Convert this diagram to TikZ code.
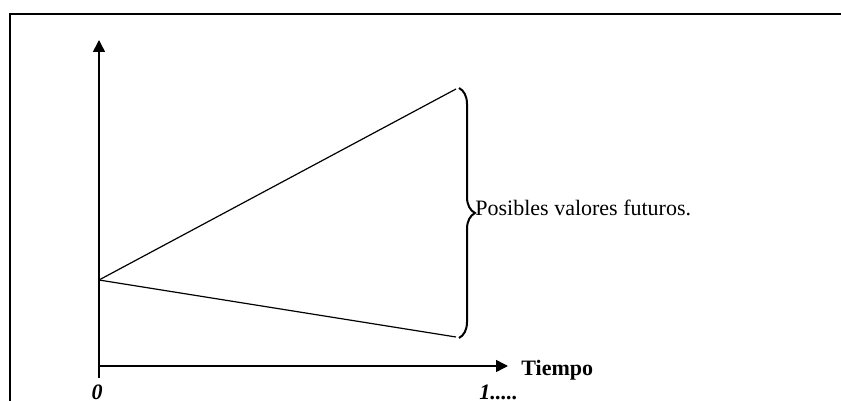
\documentclass[tikz,border=0pt]{standalone}
\usepackage{fontspec}
\setmainfont{Liberation Serif}
\usetikzlibrary{arrows.meta,calc,decorations.pathreplacing,positioning}

\begin{document}
\begin{tikzpicture}[x=0.5pt,y=-0.5pt,
    axis/.style={line width=0.8pt,-{Triangle[length=6pt,width=6pt]}},
    ramp/.style={line width=0.6pt},
    lbl/.style={inner sep=0pt,font=\fontsize{11}{13}\selectfont}]
      \useasboundingbox (0,0) rectangle (841,401);
      \draw[line width=1pt] (10,410) -- (10,14) -- (850,14);
      \coordinate (orig) at (99,366);
      \coordinate (ytop) at (99,40);
      \coordinate (xend) at (508,366);
      \coordinate (start) at (99,280);
      \coordinate (hi) at (456,89);
      \coordinate (lo) at (456,337);
      \draw[axis] (99,378) -- (ytop);
      \draw[axis] (orig) -- (xend);
      \draw[ramp] (start) -- (hi);
      \draw[ramp] (start) -- (lo);
      \draw[line width=1pt,decorate,decoration={brace,amplitude=8pt}]
      (459,88) -- (459,338);
      \node[lbl,anchor=base west,font=\fontsize{11}{13}\selectfont\bfseries]
      (tiempo) at (521,375) {Tiempo};
      \node[lbl,anchor=base west] (posibles) at (475,215) {Posibles valores futuros.};
      \node[lbl,anchor=base,font=\fontsize{11}{13}\selectfont\bfseries\itshape]
      (cero) at (97,399) {0};
      \node[lbl,anchor=base west,font=\fontsize{11}{13}\selectfont\bfseries\itshape]
      (uno) at (479,399) {1.....};
    \end{tikzpicture}
\end{document}
